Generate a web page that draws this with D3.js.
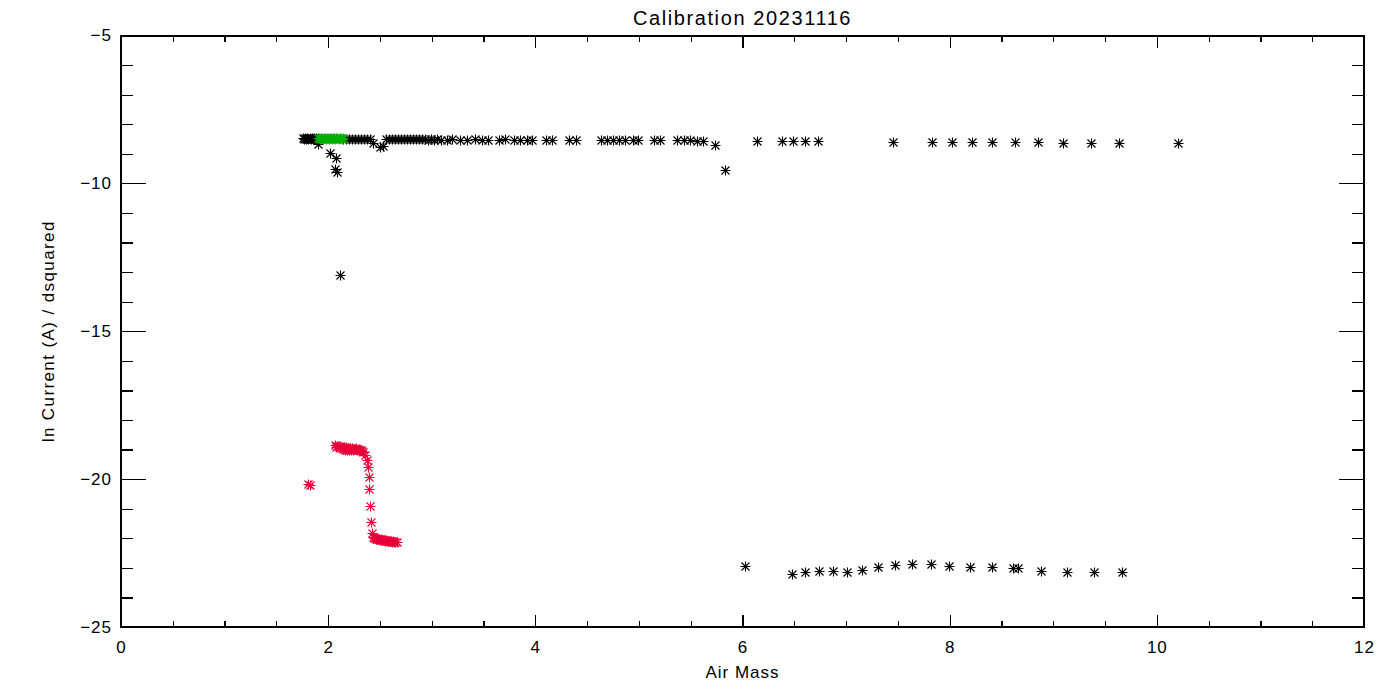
<!DOCTYPE html>
<html>
<head>
<meta charset="utf-8">
<script src="https://cdn.jsdelivr.net/npm/d3@7"></script>
<style>
  html, body { margin: 0; padding: 0; background: #fff; }
  svg text { font-family: "Liberation Sans", "DejaVu Sans", sans-serif; fill: #000; }
</style>
</head>
<body>
<svg id="chart" width="1400" height="700"></svg>
<script>
// ---------------- DATA ----------------
const title = "Calibration 20231116";
const xLabel = "Air Mass";
const yLabel = "ln Current (A) / dsquared";
const xTicks = [0, 2, 4, 6, 8, 10, 12];
const yTicks = [-25, -20, -15, -10, -5];

// black series, upper branch (air mass)
const blackTopX = [
  1.76, 1.77, 1.78, 1.79, 1.80, 1.81, 1.82, 1.83, 1.84, 1.85, 1.86, 1.87, 1.88, 1.89,
  1.90, 2.02, 2.08, 2.07, 2.09, 2.11,
  2.143, 2.172, 2.201, 2.230, 2.259, 2.288, 2.317, 2.346, 2.375, 2.404,
  2.43, 2.50, 2.53,
  2.558, 2.587, 2.616, 2.645, 2.674, 2.703, 2.732, 2.761, 2.790, 2.819, 2.848, 2.877,
  2.906, 2.935, 2.964, 2.993, 3.022, 3.051, 3.089, 3.147, 3.196, 3.273, 3.340, 3.418,
  3.485, 3.543, 3.649, 3.707, 3.794, 3.852, 3.920, 3.968, 4.103, 4.161, 4.325, 4.393,
  4.634, 4.692, 4.750, 4.808, 4.866, 4.943, 4.991, 5.146, 5.204, 5.368, 5.435, 5.493,
  5.561, 5.619, 5.735, 5.830,
  6.14, 6.38, 6.49, 6.60, 6.73, 7.45, 7.83, 8.02, 8.22, 8.41, 8.63, 8.85, 9.09, 9.36,
  9.63, 10.20
];
// black series, upper branch (ln current)
const blackTopY = [
  -8.48, -8.49, -8.48, -8.50, -8.48, -8.49, -8.48, -8.50, -8.48, -8.49, -8.48, -8.49, -8.48, -8.50,
  -8.67, -8.97, -9.14, -9.51, -9.61, -13.09,
  -8.50, -8.49, -8.50, -8.51, -8.49, -8.50, -8.51, -8.50, -8.49, -8.50,
  -8.63, -8.77, -8.73,
  -8.51, -8.50, -8.51, -8.50, -8.49, -8.50, -8.51, -8.50, -8.50, -8.51, -8.50, -8.51,
  -8.50, -8.51, -8.52, -8.51, -8.52, -8.51, -8.52, -8.52, -8.51, -8.52, -8.52, -8.51,
  -8.52, -8.52, -8.52, -8.51, -8.52, -8.52, -8.53, -8.52, -8.53, -8.53, -8.53, -8.53,
  -8.53, -8.53, -8.54, -8.53, -8.54, -8.54, -8.54, -8.55, -8.55, -8.55, -8.55, -8.55,
  -8.56, -8.56, -8.70, -9.55,
  -8.57, -8.57, -8.57, -8.58, -8.58, -8.60, -8.60, -8.60, -8.61, -8.61, -8.61, -8.61, -8.62, -8.62,
  -8.64, -8.64
];

// black series, lower branch
const blackLowX = [6.02, 6.48, 6.60, 6.74, 6.87, 7.01, 7.15, 7.31, 7.47, 7.64, 7.82, 7.99,
  8.20, 8.41, 8.61, 8.66, 8.88, 9.13, 9.39, 9.66];
const blackLowY = [-22.95, -23.20, -23.14, -23.09, -23.09, -23.14, -23.06, -22.98, -22.91,
  -22.86, -22.86, -22.95, -22.98, -22.98, -23.02, -23.02, -23.09, -23.14, -23.14, -23.14];

// red series
const redX = [
  1.81, 1.82,
  2.07, 2.08, 2.09, 2.10, 2.11, 2.12, 2.13, 2.14, 2.15, 2.16, 2.17, 2.18, 2.19, 2.20,
  2.21, 2.22, 2.23, 2.24, 2.25, 2.26, 2.27, 2.28, 2.29, 2.30, 2.31, 2.32, 2.33, 2.34,
  2.356, 2.375, 2.385, 2.394, 2.398, 2.404, 2.413, 2.423,
  2.43, 2.44, 2.45, 2.46, 2.47, 2.48, 2.49, 2.50, 2.51, 2.52, 2.53, 2.54, 2.55, 2.56,
  2.57, 2.58, 2.59, 2.60, 2.61, 2.62, 2.63, 2.64, 2.65, 2.66
];
const redY = [
  -20.18, -20.21,
  -18.86, -18.90, -18.88, -18.92, -18.87, -18.95, -18.90, -18.98, -18.92, -19.00, -18.93, -19.02,
  -18.94, -19.03, -18.95, -19.02, -18.96, -19.03, -18.97, -18.99, -18.95, -19.00, -18.98, -19.01,
  -19.00, -19.03, -19.05, -19.08,
  -19.17, -19.34, -19.58, -19.92, -20.35, -20.90, -21.44, -21.81,
  -21.94, -21.98, -22.00, -22.01, -22.03, -22.02, -22.04, -22.05, -22.04, -22.06, -22.07, -22.06,
  -22.08, -22.07, -22.09, -22.08, -22.10, -22.09, -22.10, -22.11, -22.10, -22.12, -22.11, -22.12
];

// green series
const greenX = [1.90, 1.91, 1.92, 1.93, 1.94, 1.95, 1.96, 1.97, 1.98, 1.99, 2.00, 2.01, 2.02,
  2.03, 2.04, 2.05, 2.06, 2.07, 2.08, 2.09, 2.10, 2.11, 2.12, 2.13, 2.14];
const greenY = [-8.48, -8.48, -8.49, -8.48, -8.48, -8.49, -8.48, -8.48, -8.49, -8.48, -8.48,
  -8.49, -8.48, -8.48, -8.49, -8.48, -8.48, -8.49, -8.48, -8.48, -8.49, -8.48, -8.48, -8.49, -8.48];

// ---------------- CHART ----------------
const W = 1400, H = 700;
const margin = {left: 121, right: 36, top: 35.5, bottom: 73};
const svg = d3.select("#chart");

const x = d3.scaleLinear().domain([0, 12]).range([margin.left, W - margin.right]);
const y = d3.scaleLinear().domain([-25, -5]).range([H - margin.bottom, margin.top]);

const g = svg.append("g").attr("shape-rendering", "crispEdges");

// minor ticks
const xMinor = d3.range(0, 12.01, 0.5);
const yMinor = d3.range(-25, -4.99, 1);

function styleAxis(sel) {
  sel.selectAll(".domain").attr("stroke", "#000").attr("stroke-width", 1.4);
  sel.selectAll(".tick line").attr("stroke", "#000").attr("stroke-width", 1.2);
}

g.append("g").attr("transform", `translate(0,${y(-25)})`)
  .call(d3.axisBottom(x).tickValues(xMinor).tickSize(-6).tickSizeOuter(0).tickFormat(""))
  .call(styleAxis);
g.append("g").attr("transform", `translate(0,${y(-5)})`)
  .call(d3.axisTop(x).tickValues(xMinor).tickSize(-6).tickSizeOuter(0).tickFormat(""))
  .call(styleAxis);
g.append("g").attr("transform", `translate(${x(0)},0)`)
  .call(d3.axisLeft(y).tickValues(yMinor).tickSize(-12).tickSizeOuter(0).tickFormat(""))
  .call(styleAxis);
g.append("g").attr("transform", `translate(${x(12)},0)`)
  .call(d3.axisRight(y).tickValues(yMinor).tickSize(-12).tickSizeOuter(0).tickFormat(""))
  .call(styleAxis);

// major ticks + labels
const xAx = g.append("g").attr("transform", `translate(0,${y(-25)})`)
  .call(d3.axisBottom(x).tickValues(xTicks).tickSize(-12).tickSizeOuter(0).tickPadding(14).tickFormat(d3.format("d")))
  .call(styleAxis);
g.append("g").attr("transform", `translate(0,${y(-5)})`)
  .call(d3.axisTop(x).tickValues(xTicks).tickSize(-12).tickSizeOuter(0).tickFormat(""))
  .call(styleAxis);
const yAx = g.append("g").attr("transform", `translate(${x(0)},0)`)
  .call(d3.axisLeft(y).tickValues(yTicks).tickSize(-25).tickSizeOuter(0).tickPadding(9).tickFormat(d3.format("d")))
  .call(styleAxis);
g.append("g").attr("transform", `translate(${x(12)},0)`)
  .call(d3.axisRight(y).tickValues(yTicks).tickSize(-25).tickSizeOuter(0).tickFormat(""))
  .call(styleAxis);

[xAx, yAx].forEach(a => a.selectAll("text")
  .attr("font-size", 17).attr("font-family", "Liberation Sans, DejaVu Sans, sans-serif")
  .attr("fill", "#000").style("letter-spacing", "1px"));

// frame
g.append("rect")
  .attr("x", x(0)).attr("y", y(-5))
  .attr("width", x(12) - x(0)).attr("height", y(-25) - y(-5))
  .attr("fill", "none").attr("stroke", "#000").attr("stroke-width", 1.4);

// titles
svg.append("text").attr("x", (x(0) + x(12)) / 2).attr("y", 25)
  .attr("text-anchor", "middle").attr("font-size", 20).style("letter-spacing", "1.6px")
  .text(title);
svg.append("text").attr("x", (x(0) + x(12)) / 2).attr("y", 678)
  .attr("text-anchor", "middle").attr("font-size", 17).style("letter-spacing", "1px")
  .text(xLabel);
svg.append("text")
  .attr("transform", `translate(54,${(y(-5) + y(-25)) / 2}) rotate(-90)`)
  .attr("text-anchor", "middle").attr("font-size", 17).style("letter-spacing", "1.4px")
  .text(yLabel);

// asterisk markers
function star(px, py) {
  const a = 5, d = 4;
  return `M${px - a},${py}h${2 * a}M${px},${py - a}v${2 * a}` +
    `M${px - d},${py - d}l${2 * d},${2 * d}M${px - d},${py + d}l${2 * d},${-2 * d}`;
}
function drawSeries(xs, ys, color) {
  const pts = xs.map((v, i) => [v, ys[i]]);
  svg.append("g").selectAll("path").data(pts).join("path")
    .attr("d", d => star(Math.round(x(d[0])) + 0.5, Math.round(y(d[1])) + 0.5))
    .attr("fill", "none").attr("stroke", color).attr("stroke-width", 1.1);
}
drawSeries(blackTopX, blackTopY, "#000");
drawSeries(blackLowX, blackLowY, "#000");
drawSeries(redX, redY, "#e8003a");
drawSeries(greenX, greenY, "#00b000");
</script>
</body>
</html>
